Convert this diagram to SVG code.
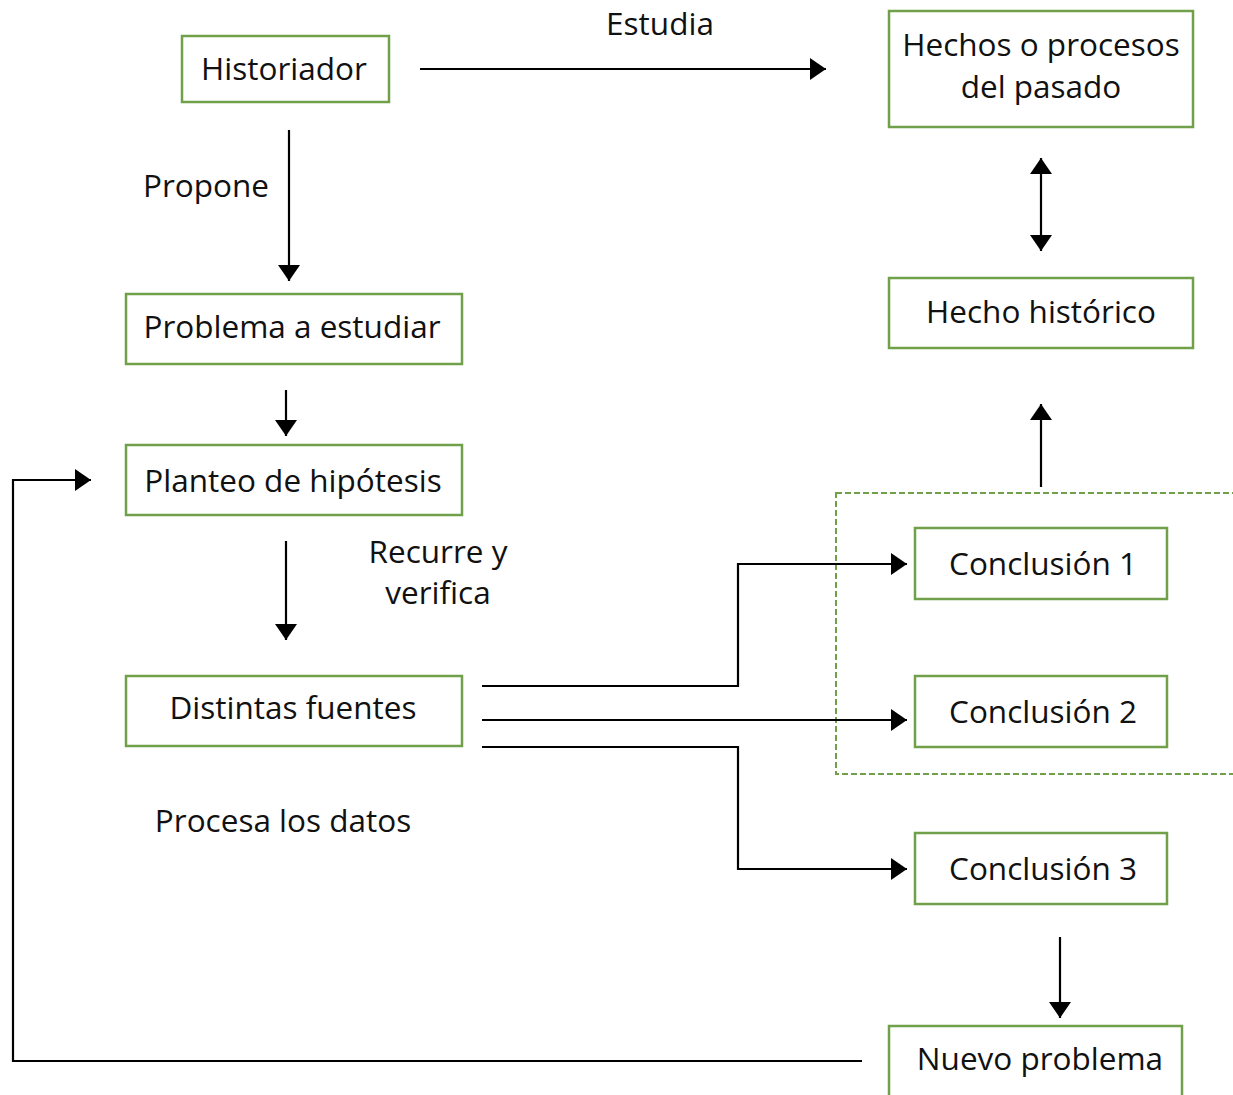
<svg xmlns="http://www.w3.org/2000/svg" width="1233" height="1095" viewBox="0 0 1233 1095">
  <style>
    .box { fill: #ffffff; stroke: #70a04a; stroke-width: 2.5; }
    .txt { font-family: "Open Sans", "Noto Sans", sans-serif; font-size: 31.5px; fill: #111111; text-anchor: middle; }
    .wire { fill: none; stroke: #000000; stroke-width: 2.2; }
    .zone { fill: none; stroke: #70a04a; stroke-width: 2; stroke-dasharray: 6 3; }
  </style>
  <defs>
    <marker id="head" viewBox="0 0 16 22" refX="16" refY="11" markerWidth="16" markerHeight="22" markerUnits="userSpaceOnUse" orient="auto-start-reverse">
      <path d="M0,0 L16,11 L0,22 Z" fill="#000000"/>
    </marker>
  </defs>
  <rect width="1233" height="1095" fill="#ffffff"/>

  <!-- grouping of conclusions 1 and 2 -->
  <rect class="zone" x="836" y="493" width="410" height="281"/>

  <g id="connectors">
    <path class="wire" d="M420,69 H826" marker-end="url(#head)"/>
    <path class="wire" d="M289,130 V281" marker-end="url(#head)"/>
    <path class="wire" d="M286,390 V436" marker-end="url(#head)"/>
    <path class="wire" d="M286,541 V640" marker-end="url(#head)"/>
    <path class="wire" d="M1041,158 V251" marker-start="url(#head)" marker-end="url(#head)"/>
    <path class="wire" d="M1041,487 V404" marker-end="url(#head)"/>
    <path class="wire" d="M482,686 H738 V564 H907" marker-end="url(#head)"/>
    <path class="wire" d="M482,720 H907" marker-end="url(#head)"/>
    <path class="wire" d="M482,747 H738 V869 H907" marker-end="url(#head)"/>
    <path class="wire" d="M1060,937 V1018" marker-end="url(#head)"/>
    <path class="wire" d="M862,1061 H13 V480 H91" marker-end="url(#head)"/>
  </g>

  <g id="historiador">
    <rect class="box" x="182" y="36" width="207" height="66"/>
    <text class="txt" x="284" y="80">Historiador</text>
  </g>
  <g id="hechos-pasado">
    <rect class="box" x="889" y="11" width="304" height="116"/>
    <text class="txt" x="1041" y="56">Hechos o procesos</text>
    <text class="txt" x="1041" y="98">del pasado</text>
  </g>
  <g id="hecho-historico">
    <rect class="box" x="889" y="278" width="304" height="70"/>
    <text class="txt" x="1041" y="323">Hecho histórico</text>
  </g>
  <g id="problema">
    <rect class="box" x="126" y="294" width="336" height="70"/>
    <text class="txt" x="292" y="338">Problema a estudiar</text>
  </g>
  <g id="hipotesis">
    <rect class="box" x="126" y="445" width="336" height="70"/>
    <text class="txt" x="293" y="492">Planteo de hipótesis</text>
  </g>
  <g id="fuentes">
    <rect class="box" x="126" y="676" width="336" height="70"/>
    <text class="txt" x="293" y="719">Distintas fuentes</text>
  </g>
  <g id="conclusion-1">
    <rect class="box" x="915" y="528" width="252" height="71"/>
    <text class="txt" x="1043" y="575">Conclusión 1</text>
  </g>
  <g id="conclusion-2">
    <rect class="box" x="915" y="676" width="252" height="71"/>
    <text class="txt" x="1043" y="723">Conclusión 2</text>
  </g>
  <g id="conclusion-3">
    <rect class="box" x="915" y="833" width="252" height="71"/>
    <text class="txt" x="1043" y="880">Conclusión 3</text>
  </g>
  <g id="nuevo-problema">
    <path class="box" d="M889,1100 V1026 H1182 V1100"/>
    <text class="txt" x="1040" y="1070">Nuevo problema</text>
  </g>

  <g id="labels">
    <text class="txt" x="660" y="35">Estudia</text>
    <text class="txt" x="206" y="197">Propone</text>
    <text class="txt" x="438" y="563">Recurre y</text>
    <text class="txt" x="438" y="604">verifica</text>
    <text class="txt" x="283" y="832">Procesa los datos</text>
  </g>
</svg>
